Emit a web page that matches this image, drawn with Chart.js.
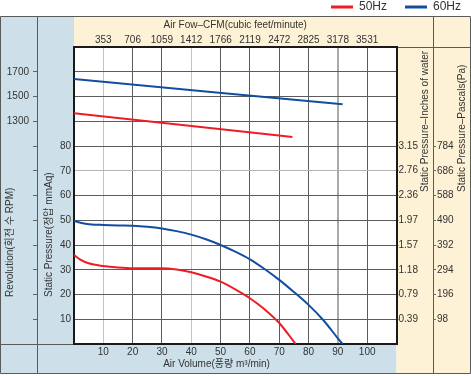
<!DOCTYPE html>
<html><head><meta charset="utf-8">
<style>html,body{margin:0;padding:0;background:#fff;}canvas{display:block;}</style>
<script src="https://cdn.jsdelivr.net/npm/chart.js@4.4.1/dist/chart.umd.min.js"></script>
</head><body>
<canvas id="c" width="471" height="376"></canvas>
<script>
// ---- data ----
const seriesNames = ['50Hz', '60Hz'];
const airVolume50 = [0, 2, 5, 10, 15, 20, 25, 30, 35, 40, 45, 50, 55, 60, 65, 70, 75.6];
const pressure50  = [36, 34.2, 32.6, 31.5, 30.9, 30.6, 30.6, 30.6, 30.1, 29.0, 27.3, 25.2, 22.1, 18.5, 14.0, 8.5, 0];
const airVolume60 = [0, 3, 6, 10, 15, 20, 25, 30, 35, 40, 45, 50, 55, 60, 65, 70, 75, 80, 85, 90, 91.6];
const pressure60  = [49.7, 48.8, 48.3, 48.1, 47.9, 47.8, 47.4, 46.7, 45.6, 44.2, 42.3, 40.0, 37.3, 34.2, 30.3, 25.9, 21.0, 15.8, 9.7, 2.3, 0];
const rpmVolume50 = [0, 74.5];
const rpm50       = [1364, 1173];
const rpmVolume60 = [0, 91.6];
const rpm60       = [1641, 1437];
const volumeTickLabels   = ['10','20','30','40','50','60','70','80','90','100'];
const cfmTickLabels      = ['353','706','1059','1412','1766','2119','2472','2825','3178','3531'];
const pressureTickLabels = ['10','20','30','40','50','60','70','80'];
const rpmTickLabels      = ['1300','1500','1700'];
const inchTickLabels     = ['0.39','0.79','1.18','1.57','1.97','2.36','2.76','3.15'];
const pascalTickLabels   = ['98','196','294','392','490','588','686','784'];

const RED = '#ee1d25', BLUE = '#124ea0';
const FONT = "'Liberation Sans', 'Noto Sans CJK KR', sans-serif";
const TXT = '#333';
const zip = (xs, ys) => xs.map((x, i) => ({x, y: ys[i]}));

const BLUE_BG = '#cde0ea', CREAM_BG = '#fdf2d6', FRAME = '#5a5a5a';

const panels = {
  id: 'panels',
  beforeDraw(chart) {
    const {ctx, chartArea: ca, scales} = chart;
    const top0 = scales.x2.top, bot0 = scales.x.bottom, right0 = chart.width - 0.5;
    ctx.save();
    ctx.fillStyle = '#fff'; ctx.fillRect(0, 0, chart.width, chart.height);
    ctx.fillStyle = BLUE_BG;
    ctx.fillRect(0, top0, ca.left, bot0 - top0);
    ctx.fillRect(0, ca.bottom, ca.right, bot0 - ca.bottom);
    ctx.fillStyle = CREAM_BG;
    ctx.fillRect(ca.left, top0, right0 - ca.left, ca.top - top0);
    ctx.fillRect(ca.right, ca.top, right0 - ca.right, bot0 - ca.top);
    ctx.fillStyle = '#fff';
    ctx.fillRect(ca.left, ca.top, ca.right - ca.left, ca.bottom - ca.top);
    ctx.strokeStyle = FRAME; ctx.lineWidth = 1;
    ctx.beginPath();
    ctx.rect(0.5, top0 + 0.5, right0 - 0.5, bot0 - top0);
    const d1 = Math.round(scales.yRPM.right) + 0.5;
    ctx.moveTo(d1, top0); ctx.lineTo(d1, bot0);
    const d2 = Math.round(scales.yPa.left) + 0.5;
    ctx.moveTo(d2, top0); ctx.lineTo(d2, bot0);
    ctx.moveTo(ca.right, Math.round(ca.top) + 0.5); ctx.lineTo(right0, Math.round(ca.top) + 0.5);
    ctx.moveTo(0, Math.round(ca.bottom) + 0.5); ctx.lineTo(ca.left, Math.round(ca.bottom) + 0.5);
    ctx.stroke();
    ctx.restore();
  },
  afterLayout(chart) {
    // move the legend row up/right inside an enlarged clip box
    const lg = chart.legend;
    if (lg) { lg.left += 18; lg.right += 18; lg.top -= 17; }
  },
  afterDraw(chart) {
    const {ctx, scales} = chart;
    ctx.save();
    ctx.fillStyle = TXT;
    ctx.font = '10px ' + FONT;
    ctx.textBaseline = 'middle';
    const vt = (text, x, y) => {
      ctx.save(); ctx.translate(x, y); ctx.rotate(-Math.PI / 2);
      ctx.textAlign = 'left'; ctx.fillText(text, 0, 0); ctx.restore();
    };
    vt('Revolution(회전 수 RPM)', scales.yRPM.left + 10, 297);
    vt('Static Pressure(정압 mmAq)', scales.y.left + 12, 297);
    vt('Static Pressure\u2013Inches of water', scales.yIn.left + 29, 192);
    vt('Static Pressure\u2013Pascals(Pa)', scales.yPa.left + 29, 192);
    ctx.textAlign = 'center';
    ctx.fillText('Air Volume(풍량 m\u00b3/min)', scales.yPa.left / 2, 364);
    ctx.restore();
  }
};

const lineDs = (label, data, color, yAxisID) => ({
  label, data, yAxisID, xAxisID: 'x',
  borderColor: color, backgroundColor: color, borderWidth: 2,
  pointRadius: 0, cubicInterpolationMode: 'monotone', fill: false
});

const lightX = [10, 40];
new Chart(document.getElementById('c'), {
  type: 'line',
  data: {
    datasets: [
      lineDs(seriesNames[0], zip(airVolume50, pressure50), RED, 'y'),
      lineDs(seriesNames[1], zip(airVolume60, pressure60), BLUE, 'y'),
      lineDs(seriesNames[0] + ' RPM', zip(rpmVolume50, rpm50), RED, 'yRPM'),
      lineDs(seriesNames[1] + ' RPM', zip(rpmVolume60, rpm60), BLUE, 'yRPM')
    ]
  },
  options: {
    responsive: false, animation: false, devicePixelRatio: 1,
    layout: {padding: {left: 0, right: 10, top: 0, bottom: 3}},
    plugins: {
      tooltip: {enabled: false},
      legend: {
        position: 'top', align: 'end', maxHeight: 16,
        labels: {
          boxWidth: 22, boxHeight: 3, padding: 18, color: TXT,
          font: {family: FONT, size: 12},
          generateLabels(chart) {
            return Chart.defaults.plugins.legend.labels.generateLabels(chart)
              .filter(l => seriesNames.includes(l.text))
              .map(l => Object.assign(l, {fillStyle: l.strokeStyle, lineWidth: 0}));
          }
        }
      }
    },
    scales: {
      x: {
        type: 'linear', position: 'bottom', min: 0, max: 110,
        afterFit: s => { s.height = 29; },
        ticks: {stepSize: 10, padding: 2, color: TXT, font: {family: FONT, size: 10}, maxRotation: 0,
          callback: v => volumeTickLabels.includes(String(v)) ? String(v) : ''},
        grid: {drawTicks: false,
          color: c => lightX.includes(c.tick && c.tick.value) ? '#c4c4c4' : (c.tick && c.tick.value === 90 ? '#ababab' : '#5c5c5c'),
          lineWidth: c => (c.tick && c.tick.value === 90) ? 2 : 1},
        border: {display: true, color: '#1a1a1a', width: 2}
      },
      x2: {
        type: 'linear', position: 'top', min: 0, max: 110 * 35.31,
        afterFit: s => { s.height = 31; },
        afterBuildTicks: s => { s.ticks = cfmTickLabels.map(t => ({value: parseFloat(t)})); },
        ticks: {padding: 1, color: TXT, font: {family: FONT, size: 10}, maxRotation: 0, autoSkip: false,
          callback: (v, i) => cfmTickLabels[i]},
        grid: {display: false, drawTicks: false},
        border: {display: true, color: '#1a1a1a', width: 2},
        title: {display: true, text: 'Air Fow\u2013CFM(cubic feet/minute)', color: TXT,
          font: {family: FONT, size: 10}, padding: {top: 3, bottom: 0}}
      },
      y: {
        type: 'linear', position: 'left', min: 0, max: 120, weight: 1,
        afterFit: s => { s.width = 37; },
        ticks: {stepSize: 10, padding: 3, color: TXT, font: {family: FONT, size: 10},
          callback: v => pressureTickLabels.includes(String(v)) ? String(v) : ''},
        grid: {drawTicks: false,
          color: c => (c.tick && c.tick.value === 70) ? '#b4b4b4' : '#5c5c5c'},
        border: {display: true, color: '#1a1a1a', width: 2}
      },
      yRPM: {
        type: 'linear', position: 'left', min: -500, max: 1900, weight: 2,
        afterFit: s => { s.width = 37; },
        afterBuildTicks: s => {
          const t = [];
          for (let v = parseFloat(rpmTickLabels[rpmTickLabels.length - 1]); v > s.min; v -= 200) t.unshift({value: v});
          s.ticks = t;
        },
        ticks: {padding: 4, color: TXT, font: {family: FONT, size: 10}, autoSkip: false,
          callback: v => rpmTickLabels.includes(String(v)) ? String(v) : ''},
        grid: {drawOnChartArea: false, drawTicks: true, tickLength: 4, color: '#666', tickColor: '#666'},
        border: {display: false}
      },
      yIn: {
        type: 'linear', position: 'right', min: 0, max: 120 * 3.15 / 80, weight: 1,
        afterFit: s => { s.width = 36.5; },
        afterBuildTicks: s => { s.ticks = inchTickLabels.map(t => ({value: parseFloat(t)})); },
        ticks: {padding: 0, color: TXT, font: {family: FONT, size: 10}, autoSkip: false,
          callback: (v, i) => inchTickLabels[i]},
        grid: {drawOnChartArea: false, drawTicks: true, tickLength: 2, color: '#666', tickColor: '#666'},
        border: {display: true, color: '#1a1a1a', width: 2}
      },
      yPa: {
        type: 'linear', position: 'right', min: 0, max: 120 * 784 / 80, weight: 2,
        afterFit: s => { s.width = 28; },
        afterBuildTicks: s => { s.ticks = pascalTickLabels.map(t => ({value: parseFloat(t)})); },
        ticks: {padding: 1, color: TXT, font: {family: FONT, size: 10}, autoSkip: false,
          callback: (v, i) => pascalTickLabels[i]},
        grid: {drawOnChartArea: false, drawTicks: true, tickLength: 3, color: '#666', tickColor: '#666'},
        border: {display: false}
      }
    }
  },
  plugins: [panels]
});
</script>
</body></html>
